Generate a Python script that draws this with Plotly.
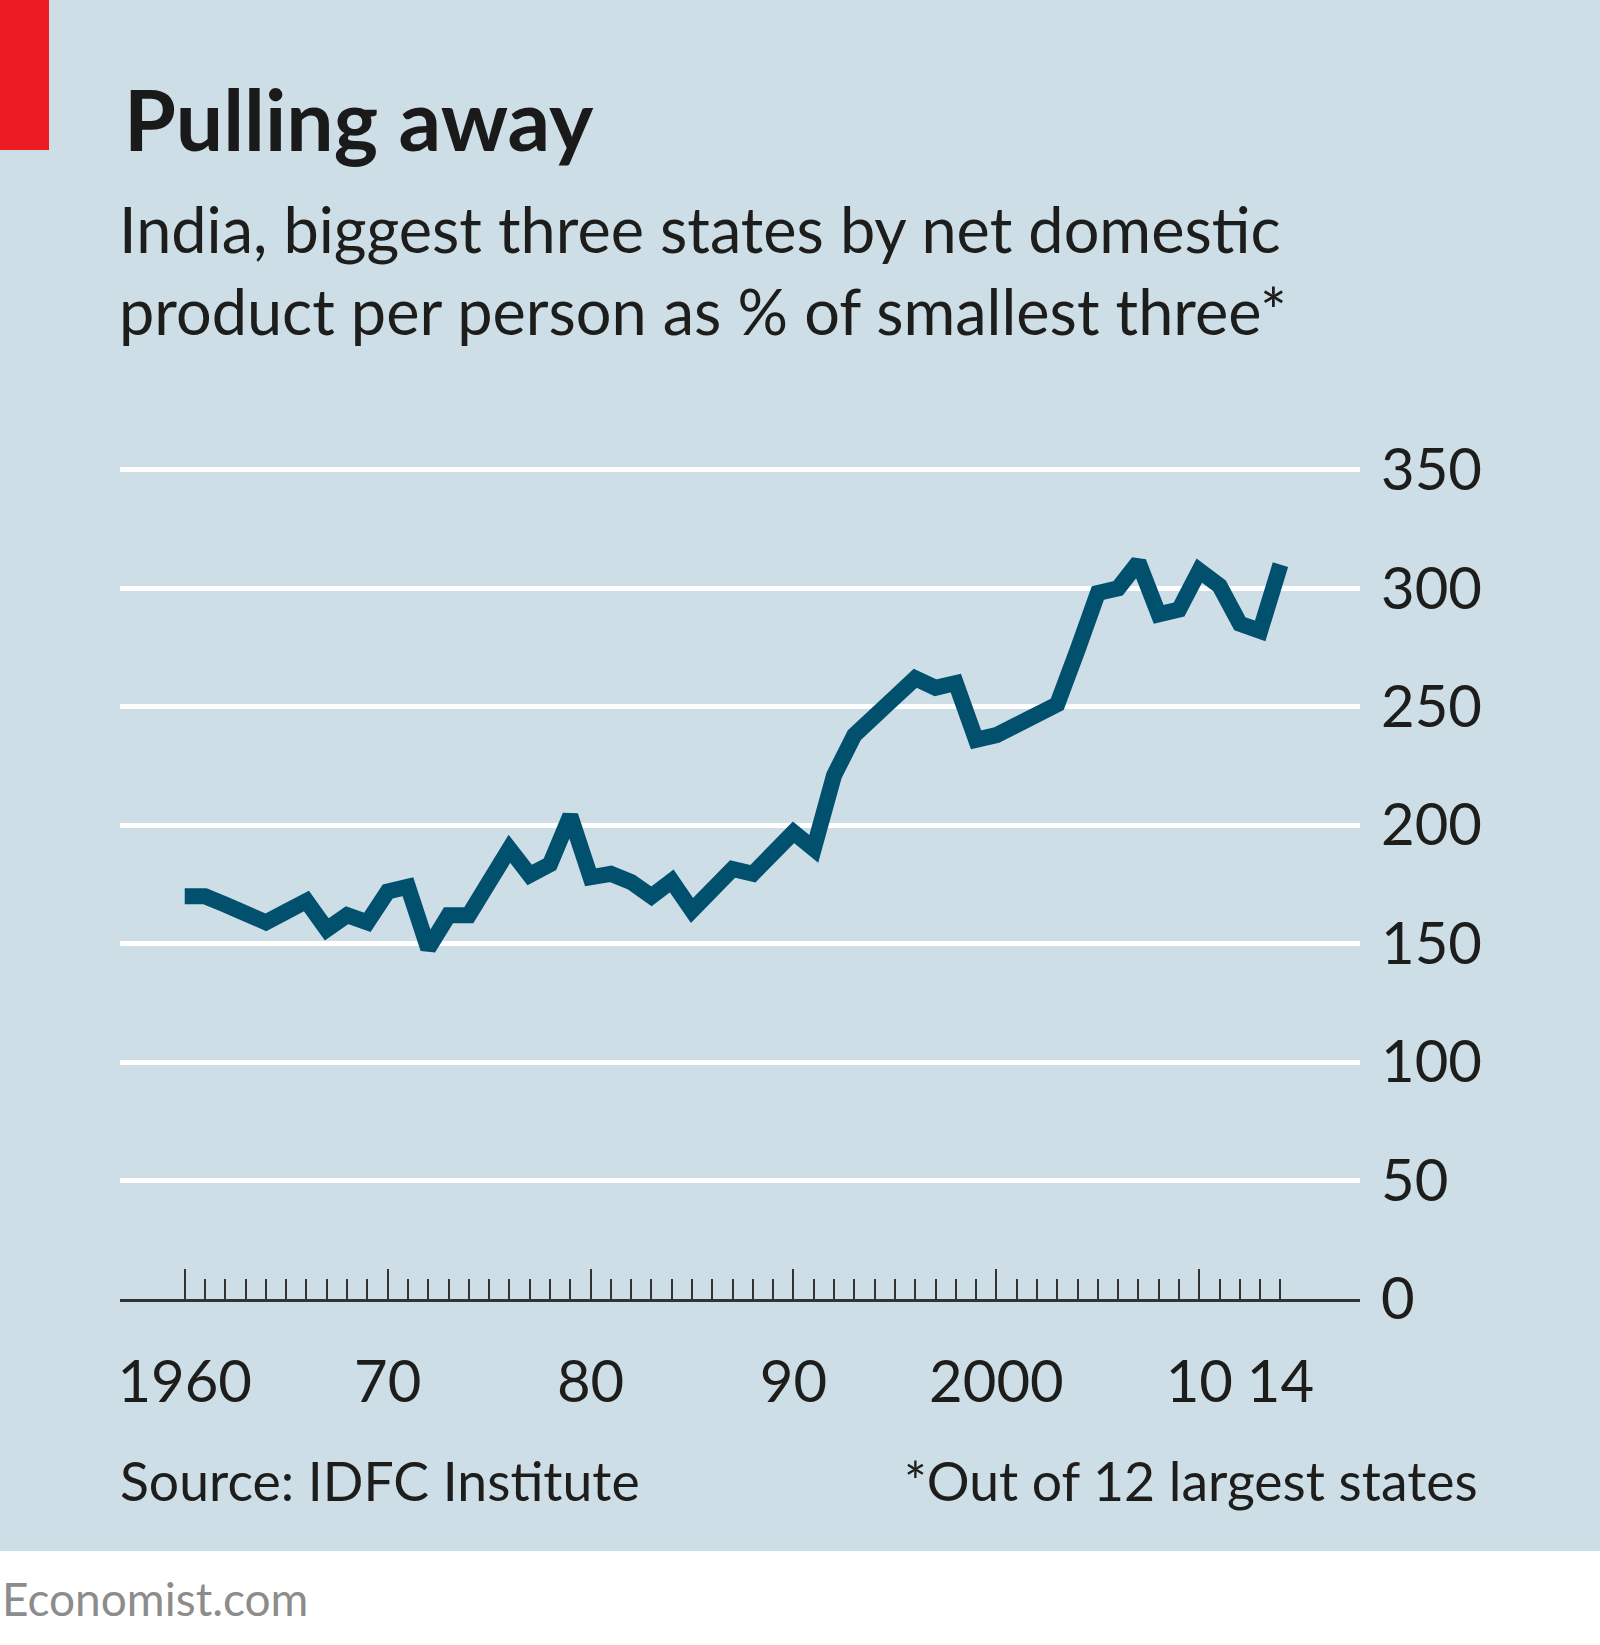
import plotly.graph_objects as go

years = list(range(1960, 2015))
values = [170, 170, 166.5, 163.5, 159, 163.5, 168, 156, 162, 159,
          172, 174, 148, 162, 162, 176, 190, 179, 183.5, 204,
          178, 179.5, 176, 170, 176.5, 164, 172.5, 181.5, 179.5, 189,
          197, 190, 221, 238, 245, 254, 262, 258, 260, 236,
          238, 242, 246, 251, 274, 298, 300, 311, 289, 291,
          307.5, 301, 285, 282, 310]

x_label_vals = [1960, 1970, 1980, 1990, 2000, 2010, 2014]
x_label_text = ["1960", "70", "80", "90", "2000", "10", "14"]
decades = [1960, 1970, 1980, 1990, 2000, 2010]
y_ticks = [0, 50, 100, 150, 200, 250, 300, 350]

title = "Pulling away"
subtitle1 = "India, biggest three states by net domestic"
subtitle2 = "product per person as % of smallest three*"
source = "Source: IDFC Institute"
footnote = "*Out of 12 largest states"
brand = "Economist.com"

W, H = 1600, 1645
L, R, T, B = 120, 240, 444, 346
PW, PH = W - L - R, H - T - B
BG = "#cddee7"
LINE = "#01506e"
FONT = "Lato"
TXT = "#1d1d1b"

def px(x):
    return (x - L) / PW

def py(y):
    return ((H - B) - y) / PH

x0, x1 = 1956.81, 2017.92
y1 = 360.9

fig = go.Figure()
fig.add_trace(go.Scatter(x=years, y=values, mode="lines",
                         line=dict(color=LINE, width=16), hoverinfo="skip",
                         showlegend=False))
fig.add_trace(go.Scatter(x=years, y=values, mode="lines", xaxis="x2",
                         opacity=0, line=dict(width=0), hoverinfo="skip",
                         showlegend=False))

ticktext = [x_label_text[x_label_vals.index(y)] if y in x_label_vals else "" for y in years]

fig.update_layout(
    width=W, height=H,
    margin=dict(l=L, r=R, t=T, b=B, pad=0),
    paper_bgcolor=BG, plot_bgcolor=BG,
    font=dict(family=FONT, color=TXT),
    xaxis=dict(range=[x0, x1], tickmode="array", tickvals=years, ticktext=ticktext,
               ticks="inside", ticklen=20, tickwidth=2, tickcolor="#333333",
               showline=True, linecolor="#333333", linewidth=3,
               showgrid=False, zeroline=False, tickfont=dict(size=58, color=TXT),
               ticklabelstandoff=30, fixedrange=True),
    xaxis2=dict(range=[x0, x1], overlaying="x", anchor="y", side="bottom",
                tickmode="array", tickvals=decades, ticks="inside", ticklen=30,
                tickwidth=2, tickcolor="#333333", showticklabels=False,
                showline=False, showgrid=False, zeroline=False),
    yaxis=dict(range=[0, y1], side="right", tickmode="array", tickvals=y_ticks,
               showgrid=True, gridcolor="white", gridwidth=5, zeroline=False,
               ticks="", tickfont=dict(size=58, color=TXT), ticklabelstandoff=20,
               fixedrange=True),
    shapes=[
        dict(type="rect", xref="paper", yref="paper", x0=px(0), x1=px(49),
             y0=py(150), y1=py(0), fillcolor="#ec1c24", line=dict(width=0)),
        dict(type="rect", xref="paper", yref="paper", x0=px(0), x1=px(W),
             y0=py(H), y1=py(1551), fillcolor="white", line=dict(width=0)),
    ],
    annotations=[
        dict(text="<b>" + title + "</b>", xref="paper", yref="paper", x=px(122), y=py(171),
             xanchor="left", yanchor="bottom", showarrow=False,
             font=dict(size=84, color="#1a1a1a", family=FONT)),
        dict(text=subtitle1, xref="paper", yref="paper", x=px(117), y=py(228),
             xanchor="left", yanchor="middle", showarrow=False,
             font=dict(size=63, color=TXT)),
        dict(text=subtitle2, xref="paper", yref="paper", x=px(117), y=py(310),
             xanchor="left", yanchor="middle", showarrow=False,
             font=dict(size=63, color=TXT)),
        dict(text=source, xref="paper", yref="paper", x=px(118), y=py(1480),
             xanchor="left", yanchor="middle", showarrow=False,
             font=dict(size=53.5, color=TXT)),
        dict(text=footnote, xref="paper", yref="paper", x=px(1480), y=py(1480),
             xanchor="right", yanchor="middle", showarrow=False,
             font=dict(size=53.5, color=TXT)),
        dict(text=brand, xref="paper", yref="paper", x=px(0), y=py(1598),
             xanchor="left", yanchor="middle", showarrow=False,
             font=dict(size=46, color="#8c8c8c")),
    ],
)

fig.write_html("out.html")
